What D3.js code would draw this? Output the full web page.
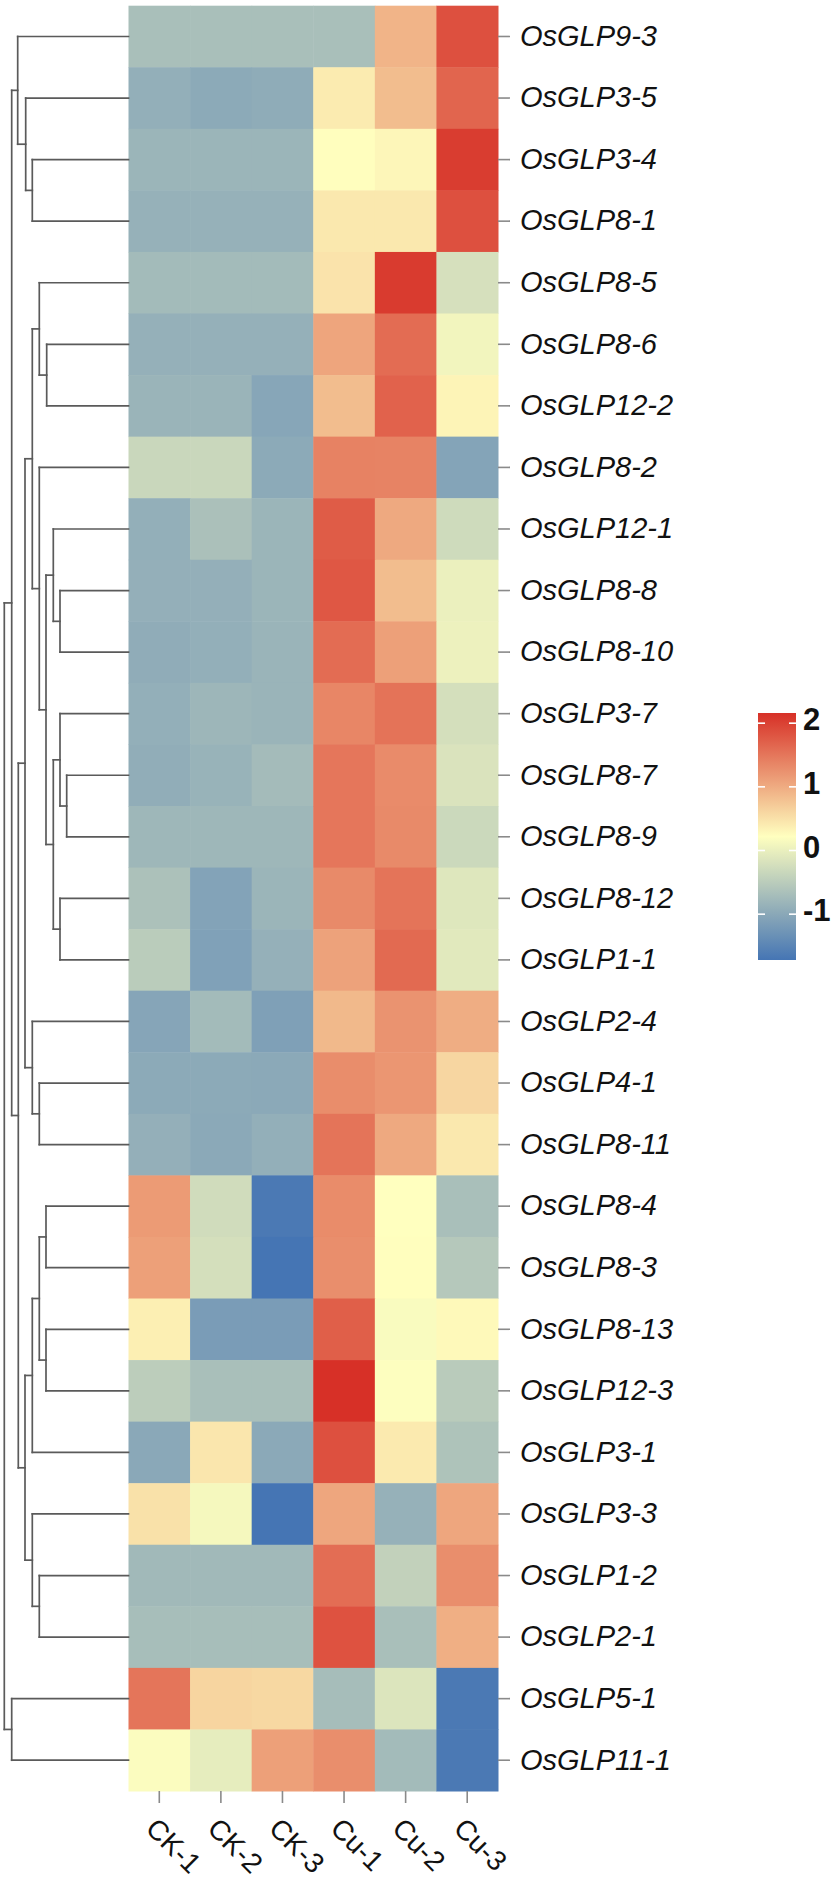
<!DOCTYPE html>
<html>
<head>
<meta charset="utf-8">
<script src="https://cdn.jsdelivr.net/npm/d3@7"></script>
<style>
  html, body { margin: 0; padding: 0; background: #ffffff; }
  svg { display: block; }
</style>
</head>
<body>
<svg id="chart" width="833" height="1880"></svg>
<script>
// ---------------- DATA ----------------
const genes = ["OsGLP9-3","OsGLP3-5","OsGLP3-4","OsGLP8-1","OsGLP8-5","OsGLP8-6","OsGLP12-2",
  "OsGLP8-2","OsGLP12-1","OsGLP8-8","OsGLP8-10","OsGLP3-7","OsGLP8-7","OsGLP8-9","OsGLP8-12",
  "OsGLP1-1","OsGLP2-4","OsGLP4-1","OsGLP8-11","OsGLP8-4","OsGLP8-3","OsGLP8-13","OsGLP12-3",
  "OsGLP3-1","OsGLP3-3","OsGLP1-2","OsGLP2-1","OsGLP5-1","OsGLP11-1"];
const samples = ["CK-1","CK-2","CK-3","Cu-1","Cu-2","Cu-3"];

// row z-scores, one array per sample (in gene order)
const valCK1 = [-0.68,-0.91,-0.82,-0.87,-0.74,-0.89,-0.83,-0.34,-0.91,-0.90,-0.94,-0.91,-0.93,-0.79,-0.65,
  -0.50,-1.04,-0.98,-0.90,1.16,1.11,0.37,-0.48,-1.00,0.50,-0.76,-0.70,1.51,0.18];
const valCK2 = [-0.68,-0.98,-0.82,-0.87,-0.74,-0.89,-0.83,-0.34,-0.66,-0.90,-0.91,-0.80,-0.85,-0.79,-1.07,
  -1.10,-0.74,-0.98,-0.99,-0.27,-0.23,-1.17,-0.68,0.45,0.12,-0.76,-0.70,0.61,-0.04];
const valCK3 = [-0.68,-0.95,-0.82,-0.87,-0.74,-0.89,-1.03,-0.98,-0.82,-0.82,-0.83,-0.83,-0.73,-0.79,-0.82,
  -0.89,-1.12,-0.99,-0.91,-1.66,-1.72,-1.17,-0.68,-0.99,-1.72,-0.76,-0.70,0.59,1.11];
const valCu1 = [-0.68,0.41,0.23,0.44,0.48,1.06,0.84,1.39,1.75,1.79,1.60,1.35,1.50,1.50,1.32,
  1.09,0.88,1.29,1.52,1.30,1.28,1.72,2.16,1.86,1.05,1.59,1.84,-0.71,1.28];
const valCu2 = [0.92,0.84,0.30,0.44,2.06,1.60,1.69,1.38,1.03,0.84,1.11,1.53,1.31,1.32,1.52,
  1.62,1.23,1.20,1.03,0.22,0.23,0.16,0.20,0.42,-0.87,-0.42,-0.68,-0.15,-0.74];
const valCu3 = [1.86,1.66,2.04,1.86,-0.21,0.08,0.32,-1.06,-0.29,0.01,0.03,-0.23,-0.17,-0.32,-0.12,
  -0.09,0.99,0.60,0.44,-0.68,-0.55,0.28,-0.51,-0.63,1.05,1.28,0.97,-1.66,-1.66];

// row dendrogram merges: [node, child1, child2, height]
const merges = [
  ["n1","OsGLP8-7","OsGLP8-9",61.8],
  ["n2","OsGLP8-8","OsGLP8-10",68.5],
  ["n3","OsGLP3-7","n1",68.5],
  ["n4","OsGLP8-12","OsGLP1-1",68.5],
  ["n5","OsGLP12-1","n2",75.2],
  ["n6","n3","n4",75.2],
  ["n7","OsGLP8-6","OsGLP12-2",81.8],
  ["n8","n5","n6",82.5],
  ["n9","OsGLP8-4","OsGLP8-3",82.5],
  ["n10","OsGLP8-13","OsGLP12-3",82.5],
  ["n11","OsGLP8-5","n7",89.2],
  ["n12","OsGLP8-2","n8",89.2],
  ["n13","n9","n10",89.2],
  ["n14","OsGLP1-2","OsGLP2-1",89.2],
  ["n15","OsGLP4-1","OsGLP8-11",89.2],
  ["n16","OsGLP3-4","OsGLP8-1",96.2],
  ["n17","n11","n12",96.2],
  ["n18","n13","OsGLP3-1",96.2],
  ["n19","OsGLP3-3","n14",96.2],
  ["n20","OsGLP2-4","n15",96.2],
  ["n21","OsGLP3-5","n16",102.8],
  ["n22","n17","n20",103.5],
  ["n23","n18","n19",103.5],
  ["n24","OsGLP9-3","n21",110.8],
  ["n25","n22","n23",110.2],
  ["n26","n24","n25",116.8],
  ["n27","OsGLP5-1","OsGLP11-1",116.8],
  ["n28","n26","n27",124.2]
];

const legendTicks = [-1, 0, 1, 2];

// ---------------- BUILD ----------------
const columns = [valCK1, valCK2, valCK3, valCu1, valCu2, valCu3];
const cells = [];
genes.forEach((g, i) => samples.forEach((s, j) => cells.push({gene: g, sample: s, value: columns[j][i]})));

const svg = d3.select("#chart");

const x = d3.scaleBand().domain(samples).range([128.5, 498]);
const y = d3.scaleBand().domain(genes).range([5.7, 1791]);

const ext = d3.extent(cells, d => d.value);
const color = d3.scaleLinear()
  .domain([ext[0], (ext[0] + ext[1]) / 2, ext[1]])
  .range(["#4575B4", "#FFFFBF", "#D73027"])
  .interpolate(d3.interpolateRgb);

// heatmap cells
svg.append("g").selectAll("rect").data(cells).join("rect")
  .attr("x", d => x(d.sample))
  .attr("y", d => y(d.gene))
  .attr("width", x.bandwidth() + 0.5)
  .attr("height", y.bandwidth() + 0.5)
  .attr("fill", d => color(d.value));

// row axis (right)
const rowAxis = svg.append("g")
  .attr("transform", "translate(498,0)")
  .call(d3.axisRight(y).tickSize(12).tickPadding(10));
rowAxis.select(".domain").remove();
rowAxis.selectAll(".tick line").attr("stroke", "#8a8a8a").attr("stroke-width", 1.6);
rowAxis.selectAll(".tick text")
  .attr("fill", "#111")
  .style("font-family", "'Liberation Sans', Arial, sans-serif")
  .style("font-style", "italic")
  .style("font-size", "29px");

// column axis (bottom)
const colAxis = svg.append("g")
  .attr("transform", "translate(0,1791)")
  .call(d3.axisBottom(x).tickSize(12).tickPadding(0));
colAxis.select(".domain").remove();
colAxis.selectAll(".tick line").attr("stroke", "#8a8a8a").attr("stroke-width", 1.6);
colAxis.selectAll(".tick text")
  .attr("fill", "#111")
  .attr("text-anchor", "start")
  .attr("x", -8)
  .attr("y", 32)
  .attr("dy", "0.35em")
  .attr("transform", "rotate(45, -8, 32)")
  .style("font-family", "'Liberation Sans', Arial, sans-serif")
  .style("font-size", "28px");

// dendrogram
const dx = d3.scaleLinear().domain([0, 124.2]).range([128.5, 4.3]);
const pos = {};
genes.forEach(g => { pos[g] = {y: y(g) + y.bandwidth() / 2, h: 0}; });
const segs = [];
merges.forEach(([name, a, b, h]) => {
  const A = pos[a], B = pos[b];
  segs.push([dx(h), A.y, dx(h), B.y]);
  segs.push([dx(h), A.y, dx(A.h), A.y]);
  segs.push([dx(h), B.y, dx(B.h), B.y]);
  pos[name] = {y: (A.y + B.y) / 2, h: h};
});
svg.append("g").selectAll("line").data(segs).join("line")
  .attr("x1", d => d[0]).attr("y1", d => d[1])
  .attr("x2", d => d[2]).attr("y2", d => d[3])
  .attr("stroke", "#5a5a5a")
  .attr("stroke-width", 1.7)
  .attr("stroke-linecap", "square");

// legend
const ly = d3.scaleLinear().domain(ext).range([960, 713]);
const defs = svg.append("defs");
const grad = defs.append("linearGradient").attr("id", "lg")
  .attr("x1", 0).attr("y1", 1).attr("x2", 0).attr("y2", 0);
d3.range(0, 1.0001, 0.05).forEach(t => {
  const v = ext[0] + t * (ext[1] - ext[0]);
  grad.append("stop").attr("offset", t).attr("stop-color", color(v));
});
const lx0 = 758, lw = 38;
svg.append("rect")
  .attr("x", lx0).attr("y", ly(ext[1]))
  .attr("width", lw).attr("height", ly(ext[0]) - ly(ext[1]))
  .attr("fill", "url(#lg)");
const lg = svg.append("g");
legendTicks.forEach(t => {
  lg.append("line").attr("x1", lx0).attr("x2", lx0 + 7)
    .attr("y1", ly(t)).attr("y2", ly(t))
    .attr("stroke", "#fff").attr("stroke-width", 1.6);
  lg.append("line").attr("x1", lx0 + lw - 7).attr("x2", lx0 + lw)
    .attr("y1", ly(t)).attr("y2", ly(t))
    .attr("stroke", "#fff").attr("stroke-width", 1.6);
  lg.append("text")
    .attr("x", 803).attr("y", ly(t) + 7)
    .attr("fill", "#111")
    .style("font-family", "'Liberation Sans', Arial, sans-serif")
    .style("font-weight", "bold")
    .style("font-size", "31px")
    .text(t);
});
</script>
</body>
</html>
